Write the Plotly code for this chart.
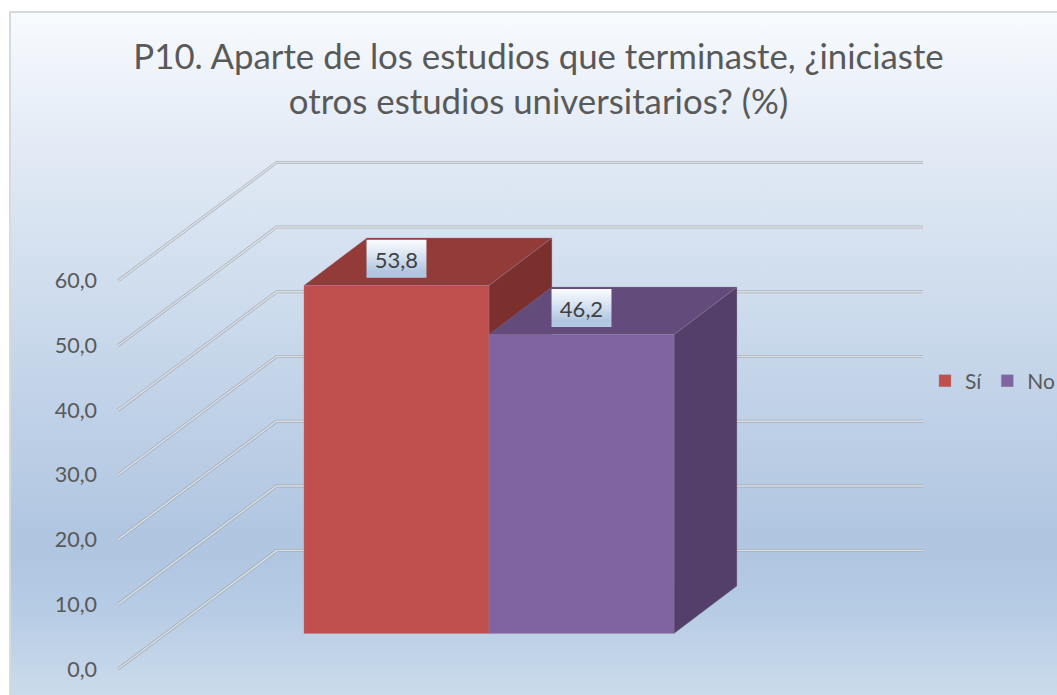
import plotly.graph_objects as go

# ---- data ----
categories = ["Sí", "No"]
values = [53.8, 46.2]
front_colors = ["#C0504D", "#8064A2"]
top_colors = ["#923B39", "#634B7B"]
side_colors = ["#7B302E", "#533F69"]
value_ticks = [0, 10, 20, 30, 40, 50, 60]
title_text = "P10. Aparte de los estudios que terminaste, ¿iniciaste<br>otros estudios universitarios? (%)"

# ---- layout / oblique projection settings ----
W, H = 1057, 695
X_RANGE = [-2.143, 3.57]
Y_RANGE = [-4.02, 103.4]
WALL_DX, WALL_DV = 0.857, 18.3      # floor depth, as seen on screen
WALL_LEFT, WALL_RIGHT = -1.505, 2.846
BAR_BASE, BAR_DX, BAR_DV = 5.49, 0.34, 7.34
LABEL_LIFT, LABEL_HW, LABEL_HH, LABEL_TEXT_DROP = 9.6, 0.162, 2.94, 0.5
FRAME_LEFT, FRAME_TOP = -2.089, 101.55
GREY = "#595959"
FONT = "Lato"

fig = go.Figure()

# chart-area background (gradient) with frame
fig.add_trace(go.Scatter(
    x=[FRAME_LEFT, X_RANGE[1] + 1, X_RANGE[1] + 1, FRAME_LEFT, FRAME_LEFT],
    y=[Y_RANGE[0] - 1, Y_RANGE[0] - 1, FRAME_TOP, FRAME_TOP, Y_RANGE[0] - 1],
    mode="lines", fill="toself", line=dict(color="#D9D9D9", width=2),
    fillgradient=dict(type="vertical", start=Y_RANGE[0], stop=FRAME_TOP, colorscale=[
        [0.00, "#CADBEB"], [0.13, "#B6CBE4"], [0.22, "#AFC5E0"],
        [0.55, "#CBDAEC"], [0.80, "#E2EAF5"], [1.00, "#F8FBFE"]]),
    hoverinfo="skip", showlegend=False, cliponaxis=False))

# gridlines: wall + back plane
for v in value_ticks:
    gx = [WALL_LEFT, WALL_LEFT + WALL_DX, WALL_RIGHT]
    gy = [v, v + WALL_DV, v + WALL_DV]
    fig.add_trace(go.Scatter(x=gx, y=gy, mode="lines", hoverinfo="skip", showlegend=False,
                             line=dict(color="rgba(140,150,165,0.6)", width=3)))
    fig.add_trace(go.Scatter(x=gx, y=gy, mode="lines", hoverinfo="skip", showlegend=False,
                             line=dict(color="#DEDEDE", width=1.5)))

# side and top faces of the bars
EDGE = "rgba(150,130,160,0.3)"
for i, v in enumerate(values):
    l, r = i - 0.5, i + 0.5
    top = BAR_BASE + v
    fig.add_trace(go.Scatter(
        x=[r, r + BAR_DX, r + BAR_DX, r, r],
        y=[BAR_BASE, BAR_BASE + BAR_DV, top + BAR_DV, top, BAR_BASE],
        mode="lines", fill="toself", fillcolor=side_colors[i], line=dict(color=EDGE, width=1),
        hoverinfo="skip", showlegend=False))
    fig.add_trace(go.Scatter(
        x=[l, l + BAR_DX, r + BAR_DX, r, l],
        y=[top, top + BAR_DV, top + BAR_DV, top, top],
        mode="lines", fill="toself", fillcolor=top_colors[i], line=dict(color=EDGE, width=1),
        hoverinfo="skip", showlegend=False))

# front faces: real bars, on an overlaying subplot so they sit above the faces
for i, (name, v) in enumerate(zip(categories, values)):
    fig.add_trace(go.Bar(
        x=[i], y=[v], base=BAR_BASE, width=1, name=name, xaxis="x2", yaxis="y2",
        marker=dict(color=front_colors[i], line=dict(color=EDGE, width=1))))

# data labels with gradient boxes
for i, v in enumerate(values):
    cy = v + LABEL_LIFT
    fig.add_trace(go.Scatter(
        x=[i - LABEL_HW, i + LABEL_HW, i + LABEL_HW, i - LABEL_HW, i - LABEL_HW],
        y=[cy - LABEL_HH, cy - LABEL_HH, cy + LABEL_HH, cy + LABEL_HH, cy - LABEL_HH],
        mode="lines", fill="toself", line=dict(width=0), xaxis="x2", yaxis="y2",
        fillgradient=dict(type="vertical", start=cy - LABEL_HH, stop=cy + LABEL_HH, colorscale=[
            [0.0, "#B4C9E2"], [0.15, "#AFC5E0"], [0.55, "#D5E1F0"], [1.0, "#FBFCFE"]]),
        hoverinfo="skip", showlegend=False))
    fig.add_trace(go.Scatter(
        x=[i], y=[cy - LABEL_TEXT_DROP], mode="text", text=[f"{v:.1f}".replace(".", ",")],
        xaxis="x2", yaxis="y2",
        textposition="middle center", textfont=dict(family=FONT, size=22, color="#404040"),
        hoverinfo="skip", showlegend=False))

hidden = dict(visible=False, fixedrange=True)
fig.update_layout(
    width=W, height=H, autosize=False,
    margin=dict(l=0, r=0, t=0, b=0, pad=0, autoexpand=False),
    paper_bgcolor="white", plot_bgcolor="rgba(0,0,0,0)",
    separators=",.", barmode="overlay", hovermode=False,
    font=dict(family=FONT, color=GREY),
    title=dict(text=title_text, x=538.5 / W, xanchor="center", xref="paper",
               y=1 - 69 / H, yanchor="top", yref="container",
               font=dict(family=FONT, size=34.8, color=GREY)),
    xaxis=dict(range=X_RANGE, **hidden),
    yaxis=dict(range=Y_RANGE, anchor="free", position=97 / W, tickmode="array",
               tickvals=value_ticks, tickformat=".1f", showgrid=False, zeroline=False,
               showline=False, ticks="", fixedrange=True,
               tickfont=dict(family=FONT, size=21.5, color=GREY)),
    xaxis2=dict(range=X_RANGE, overlaying="x", **hidden),
    yaxis2=dict(range=Y_RANGE, overlaying="y", **hidden),
    legend=dict(orientation="h", x=925 / W, xanchor="left", y=1 - 381 / H, yanchor="middle",
                bgcolor="rgba(0,0,0,0)", borderwidth=0,
                font=dict(family=FONT, size=21, color=GREY),
                traceorder="normal", itemclick=False, itemdoubleclick=False),
)

fig.write_html("out.html", config=dict(displayModeBar=False, responsive=False),
               post_script="document.body.style.margin='0';document.documentElement.style.overflow='hidden';")
